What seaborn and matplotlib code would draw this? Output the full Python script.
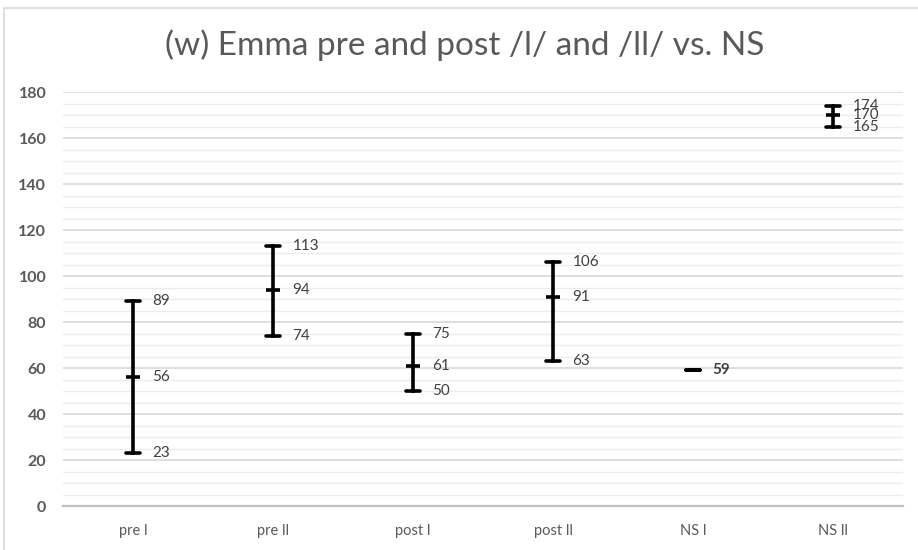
import matplotlib
matplotlib.use("Agg")
import matplotlib.pyplot as plt
from matplotlib.patches import Rectangle
from matplotlib.ticker import MultipleLocator
import seaborn as sns
import pandas as pd

# Category labels and the low / middle / high value of each range
categories = ["pre l", "pre ll", "post l", "post ll", "NS l", "NS ll"]
low_values = [23, 74, 50, 63, 59, 165]
mid_values = [56, 94, 61, 91, 59, 170]
high_values = [89, 113, 75, 106, 59, 174]

rows = []
for cat, lo, mid, hi in zip(categories, low_values, mid_values, high_values):
    for v in (lo, mid, hi):
        rows.append({"group": cat, "value": v})
df = pd.DataFrame(rows)

sns.set_theme(style="white")
plt.rcParams["font.family"] = ["Lato", "DejaVu Sans"]

fig = plt.figure(figsize=(9.18, 5.5), dpi=100)
ax = fig.add_axes([0.0686, 0.08, 0.915, 0.7527])

# Vertical range lines with end caps; the median marks the middle value
sns.pointplot(
    data=df, x="group", y="value", order=categories,
    estimator="median", errorbar=("pi", 100), capsize=0.1,
    color="black", markers="_", linestyles="none",
    err_kws={"linewidth": 2.6},
    markersize=10, markeredgewidth=2.6,
    ax=ax,
)

ax.set_ylim(0, 180)
ax.set_xlim(-0.5, len(categories) - 0.5)
ax.yaxis.set_major_locator(MultipleLocator(20))
ax.yaxis.set_minor_locator(MultipleLocator(5))
ax.grid(which="major", axis="y", color="#d4d4d4", linewidth=1.1)
ax.grid(which="minor", axis="y", color="#ececec", linewidth=1.0)
ax.grid(which="major", axis="x", visible=False)
ax.set_axisbelow(True)
for side in ("top", "right", "left"):
    ax.spines[side].set_visible(False)
ax.spines["bottom"].set_color("#bfbfbf")
ax.spines["bottom"].set_linewidth(1.6)
ax.tick_params(axis="y", which="both", length=0, pad=12, labelsize=11.5,
               labelcolor="#595959")
ax.tick_params(axis="x", length=0, pad=13, labelsize=10.5, labelcolor="#595959")
for lbl in ax.get_yticklabels():
    lbl.set_fontweight("bold")
ax.set_xlabel("")
ax.set_ylabel("")

# Value labels to the right of each range
for i, (lo, mid, hi) in enumerate(zip(low_values, mid_values, high_values)):
    if lo == mid == hi:
        ax.text(i + 0.14, mid, str(mid), ha="left", va="center",
                fontsize=11, color="#404040", fontweight="bold")
        continue
    for v in (lo, mid, hi):
        ax.text(i + 0.14, v, str(v), ha="left", va="center",
                fontsize=11, color="#404040")

fig.text(0.506, 0.918, "(w) Emma pre and post /l/ and /ll/ vs. NS",
         ha="center", va="center", fontsize=24, color="#595959")

# Light frame round the chart area
fig.patches.append(Rectangle((0.004, -0.01), 1.0, 0.996, transform=fig.transFigure,
                             fill=False, edgecolor="#d9d9d9", linewidth=1.2))

fig.savefig("out.png", dpi=100)
